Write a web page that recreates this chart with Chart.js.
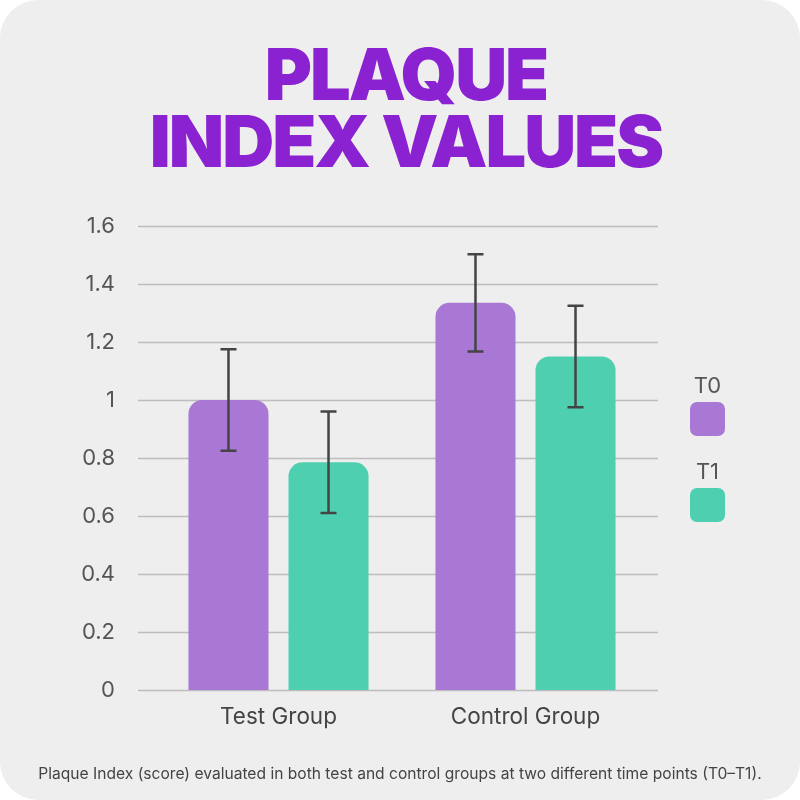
<!DOCTYPE html>
<html>
<head>
<meta charset="utf-8">
<script src="https://cdn.jsdelivr.net/npm/chart.js@4.4.0/dist/chart.umd.min.js"></script>
<style>
    html, body { margin: 0; padding: 0; background: #ffffff; }
    .card {
        position: relative;
        width: 800px;
        height: 800px;
        background: #eeeeee;
        border-radius: 38px;
        overflow: hidden;
    }
    #plaqueChart { position: absolute; left: 0; top: 0; }
    .title {
        position: absolute;
        left: 0;
        top: 40px;
        width: 812px;
        text-align: center;
        font-family: "Inter", "Lato", sans-serif;
        font-weight: 900;
        font-size: 72px;
        line-height: 67px;
        color: #8a22d1;
        letter-spacing: -2px;
    }
    .legend {
        position: absolute;
        left: 690px;
        top: 370px;
        width: 35px;
        font-family: "Inter", sans-serif;
        font-size: 22px;
        color: #555555;
        text-align: center;
    }
    .legend .item-label { height: 32px; line-height: 30px; }
    .legend .swatch { width: 35px; height: 34px; border-radius: 7px; margin-bottom: 20px; }
    .footnote {
        position: absolute;
        left: 0;
        top: 764px;
        width: 800px;
        text-align: center;
        font-family: "Inter", sans-serif;
        font-size: 15.6px;
        color: #444444;
    }
</style>
</head>
<body>
<div class="card">
    <canvas id="plaqueChart" width="800" height="800"></canvas>
    <div class="title">PLAQUE<br>INDEX VALUES</div>
    <div class="legend" id="legend"></div>
    <div class="footnote">Plaque Index (score) evaluated in both test and control groups at two different time points (T0–T1).</div>
</div>
<script>
// Chart data
const groups = ['Test Group', 'Control Group'];
const seriesNames = ['T0', 'T1'];
const t0Values = [1.0, 1.335];
const t1Values = [0.785, 1.15];
const t0Errors = [0.175, 0.168];
const t1Errors = [0.175, 0.175];
const yTicks = [0, 0.2, 0.4, 0.6, 0.8, 1, 1.2, 1.4, 1.6];

const seriesColors = ['#a978d4', '#4ecfb0'];

// Horizontal grid lines, a bit wider than the bar area
const gridPlugin = {
    id: 'gridLines',
    beforeDatasetsDraw(chart) {
        const { ctx, chartArea, scales } = chart;
        ctx.save();
        ctx.strokeStyle = '#bdbdbd';
        ctx.lineWidth = 1.5;
        yTicks.forEach(v => {
            const y = Math.round(scales.y.getPixelForValue(v)) + 0.5;
            ctx.beginPath();
            ctx.moveTo(chartArea.left - 17, y);
            ctx.lineTo(chartArea.right + 9, y);
            ctx.stroke();
        });
        ctx.restore();
    }
};

// Error bars drawn on top of each bar
const errorBarPlugin = {
    id: 'errorBars',
    afterDatasetsDraw(chart) {
        const { ctx, scales } = chart;
        ctx.save();
        ctx.strokeStyle = '#444444';
        ctx.lineWidth = 2.5;
        chart.data.datasets.forEach((ds, i) => {
            const meta = chart.getDatasetMeta(i);
            meta.data.forEach((bar, j) => {
                const v = ds.data[j];
                const e = ds.errors[j];
                const yTop = scales.y.getPixelForValue(v + e);
                const yBot = scales.y.getPixelForValue(v - e);
                const x = bar.x;
                ctx.beginPath();
                ctx.moveTo(x, yTop);
                ctx.lineTo(x, yBot);
                ctx.moveTo(x - 8, yTop);
                ctx.lineTo(x + 8, yTop);
                ctx.moveTo(x - 8, yBot);
                ctx.lineTo(x + 8, yBot);
                ctx.stroke();
            });
        });
        ctx.restore();
    }
};

function buildLegend() {
    const legend = document.getElementById('legend');
    seriesNames.forEach((name, i) => {
        legend.innerHTML += `
            <div class="item-label">${name}</div>
            <div class="swatch" style="background:${seriesColors[i]}"></div>
        `;
    });
}

document.addEventListener('DOMContentLoaded', function() {
    buildLegend();

    const ctx = document.getElementById('plaqueChart').getContext('2d');
    new Chart(ctx, {
        type: 'bar',
        data: {
            labels: groups,
            datasets: [{
                label: seriesNames[0],
                data: t0Values,
                errors: t0Errors,
                backgroundColor: seriesColors[0],
                borderRadius: { topLeft: 14, topRight: 14 },
                borderSkipped: 'bottom',
                barPercentage: 0.8,
                categoryPercentage: 0.81
            }, {
                label: seriesNames[1],
                data: t1Values,
                errors: t1Errors,
                backgroundColor: seriesColors[1],
                borderRadius: { topLeft: 14, topRight: 14 },
                borderSkipped: 'bottom',
                barPercentage: 0.8,
                categoryPercentage: 0.81
            }]
        },
        options: {
            responsive: false,
            animation: false,
            layout: {
                padding: { top: 226, right: 151, bottom: 0, left: 0 }
            },
            scales: {
                y: {
                    min: 0,
                    max: 1.6,
                    afterFit(scale) { scale.width = 155; },
                    afterBuildTicks(scale) {
                        scale.ticks = yTicks.map(v => ({ value: v }));
                    },
                    ticks: {
                        padding: 40,
                        color: '#555555',
                        font: { family: 'Inter', size: 22 },
                        callback: v => String(Math.round(v * 10) / 10)
                    },
                    grid: { display: false, drawTicks: false },
                    border: { display: false }
                },
                x: {
                    afterFit(scale) { scale.height = 110; },
                    ticks: {
                        padding: 14,
                        color: '#444444',
                        font: { family: 'Inter', size: 22.5 }
                    },
                    grid: { display: false, drawTicks: false },
                    border: { display: false }
                }
            },
            plugins: {
                legend: { display: false },
                tooltip: { enabled: false }
            }
        },
        plugins: [gridPlugin, errorBarPlugin]
    });
});
</script>
</body>
</html>
